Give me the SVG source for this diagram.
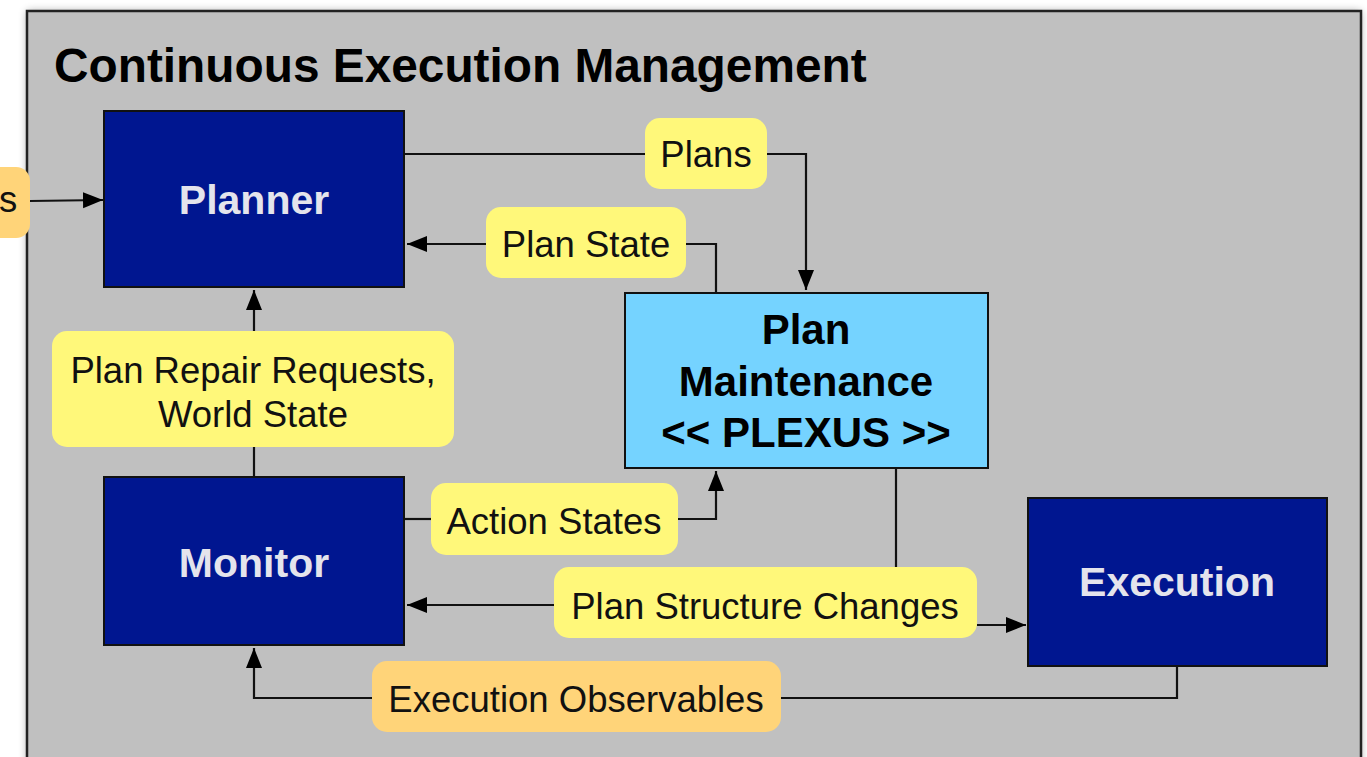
<svg xmlns="http://www.w3.org/2000/svg" width="1367" height="757" viewBox="0 0 1367 757">
<style>
.box{fill:#001690;stroke:#111;stroke-width:2}
.lbl{fill:#FFF87A}
.org{fill:#FFD479}
.wt{font-family:"Liberation Sans",Arial,sans-serif;font-weight:bold;font-size:41px;fill:#E4E4EC;text-anchor:middle}
.bt{font-family:"Liberation Sans",Arial,sans-serif;font-weight:bold;font-size:42px;fill:#000;text-anchor:middle}
.lt{font-family:"Liberation Sans",Arial,sans-serif;font-size:36.5px;fill:#111;text-anchor:middle}
.ln{fill:none;stroke:#111;stroke-width:2.2}
</style>
<defs>
<marker id="ah" markerUnits="userSpaceOnUse" markerWidth="22" markerHeight="18" refX="20" refY="8" orient="auto">
<path d="M0,0 L20,8 L0,16 Z" fill="#000"/>
</marker>
<filter id="sh" x="-5%" y="-5%" width="110%" height="110%"><feGaussianBlur stdDeviation="4"/></filter>
</defs>
<rect width="1367" height="757" fill="#fff"/>
<rect x="27" y="11" width="1334" height="770" fill="#000" opacity="0.35" filter="url(#sh)"/>
<rect id="container" x="27" y="11" width="1334" height="770" fill="#C0C0C0" stroke="#222" stroke-width="2.5"/>
<text x="54" y="82" font-family="Liberation Sans,Arial,sans-serif" font-weight="bold" font-size="47.8" fill="#000">Continuous Execution Management</text>

<g id="connectors">
<path class="ln" d="M30,201 L103,200" marker-end="url(#ah)"/>
<path class="ln" d="M405,154 L645,154"/>
<path class="ln" d="M767,154 L806,154 L806,290" marker-end="url(#ah)"/>
<path class="ln" d="M716,293 L716,244 L686,244"/>
<path class="ln" d="M486,244 L407,244" marker-end="url(#ah)"/>
<path class="ln" d="M254,477 L254,447"/>
<path class="ln" d="M254,331 L254,290" marker-end="url(#ah)"/>
<path class="ln" d="M405,519 L431,519"/>
<path class="ln" d="M678,519 L716,519 L716,471" marker-end="url(#ah)"/>
<path class="ln" d="M896,469 L896,567"/>
<path class="ln" d="M554,605 L407,605" marker-end="url(#ah)"/>
<path class="ln" d="M977,625 L1026,625" marker-end="url(#ah)"/>
<path class="ln" d="M1177,667 L1177,698 L781,698"/>
<path class="ln" d="M372,698 L254,698 L254,648" marker-end="url(#ah)"/>
</g>

<g id="planner">
<rect class="box" x="104" y="111" width="300" height="176"/>
<text class="wt" x="254" y="214">Planner</text>
</g>
<g id="monitor">
<rect class="box" x="104" y="477" width="300" height="168"/>
<text class="wt" x="254" y="577">Monitor</text>
</g>
<g id="execution">
<rect class="box" x="1028" y="498" width="299" height="168"/>
<text class="wt" x="1177" y="596">Execution</text>
</g>
<g id="plan-maintenance">
<rect x="625" y="293" width="363" height="175" fill="#75D3FF" stroke="#111" stroke-width="2"/>
<text class="bt" x="806" y="344">Plan</text>
<text class="bt" x="806" y="396">Maintenance</text>
<text class="bt" x="806" y="447">&lt;&lt; PLEXUS &gt;&gt;</text>
</g>

<g id="label-left">
<rect class="org" x="-30" y="167" width="60" height="71" rx="14"/>
<text class="lt" x="8" y="212">s</text>
</g>
<g id="label-plans">
<rect class="lbl" x="645" y="118" width="122" height="71" rx="15"/>
<text class="lt" x="706" y="167">Plans</text>
</g>
<g id="label-plan-state">
<rect class="lbl" x="486" y="207" width="200" height="71" rx="15"/>
<text class="lt" x="586" y="257">Plan State</text>
</g>
<g id="label-repair">
<rect class="lbl" x="52" y="331" width="402" height="116" rx="15"/>
<text class="lt" x="253" y="383">Plan Repair Requests,</text>
<text class="lt" x="253" y="427">World State</text>
</g>
<g id="label-action-states">
<rect class="lbl" x="431" y="483" width="247" height="72" rx="15"/>
<text class="lt" x="554" y="534">Action States</text>
</g>
<g id="label-structure">
<rect class="lbl" x="554" y="567" width="423" height="71" rx="15"/>
<text class="lt" x="765" y="619">Plan Structure Changes</text>
</g>
<g id="label-observables">
<rect class="org" x="372" y="661" width="409" height="71" rx="15"/>
<text class="lt" x="576" y="712">Execution Observables</text>
</g>
</svg>
